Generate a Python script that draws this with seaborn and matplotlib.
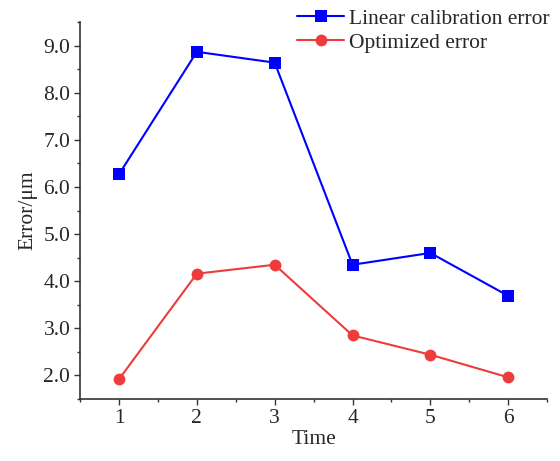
import numpy as np
import pandas as pd
import matplotlib
matplotlib.use("Agg")
import matplotlib.pyplot as plt
import seaborn as sns
from matplotlib.ticker import MultipleLocator

# dados
tempo = [1, 2, 3, 4, 5, 6]
erro_linear = [6.27, 8.87, 8.64, 4.35, 4.60, 3.69]
erro_otimizado = [1.92, 4.16, 4.35, 2.85, 2.44, 1.96]
series = ["Linear calibration error", "Optimized error"]

df = pd.DataFrame({
    "Time": tempo * 2,
    "Error": erro_linear + erro_otimizado,
    "serie": [series[0]] * 6 + [series[1]] * 6,
})

sns.set_style("ticks")
plt.rcParams["font.family"] = ["Liberation Serif", "DejaVu Serif"]

FS = 15.5

fig = plt.figure(figsize=(5.6, 4.61), dpi=100)
ax = fig.add_axes([0.143, 0.1345, 0.834, 0.8175])

cores = {series[0]: "#0000FF", series[1]: "#EE3B3B"}
marcas = {series[0]: "s", series[1]: "o"}
sns.lineplot(data=df, x="Time", y="Error", hue="serie", style="serie",
             palette=cores, markers=marcas, dashes=False, markersize=8.5,
             markeredgewidth=0, linewidth=1.5, ax=ax)

ax.set_xlim(0.5, 6.5)
ax.set_ylim(1.5, 9.5)
ax.xaxis.set_major_locator(MultipleLocator(1))
ax.xaxis.set_minor_locator(MultipleLocator(0.5))
ax.yaxis.set_major_locator(MultipleLocator(1))
ax.yaxis.set_minor_locator(MultipleLocator(0.5))
ax.set_yticklabels([f"{v:.1f}" for v in ax.get_yticks()])
ax.tick_params(which="major", length=4, width=1, labelsize=FS, color="#333333", pad=3)
ax.tick_params(which="minor", length=2.5, width=1, color="#333333")
for s in ["top", "right"]:
    ax.spines[s].set_visible(False)
for s in ["left", "bottom"]:
    ax.spines[s].set_color("#333333")
    ax.spines[s].set_linewidth(1.2)

ax.set_xlabel("Time", fontsize=FS, labelpad=2)
ax.set_ylabel("Error/\u03bcm", fontsize=FS, labelpad=4)

h, l = ax.get_legend_handles_labels()
ax.get_legend().remove()
fig.legend(h, l, loc="upper right", bbox_to_anchor=(1.0, 1.005), frameon=False,
           fontsize=FS, handlelength=2.2, handletextpad=0.2, labelspacing=0.2,
           borderaxespad=0.1)

fig.savefig("out.png", dpi=100)
